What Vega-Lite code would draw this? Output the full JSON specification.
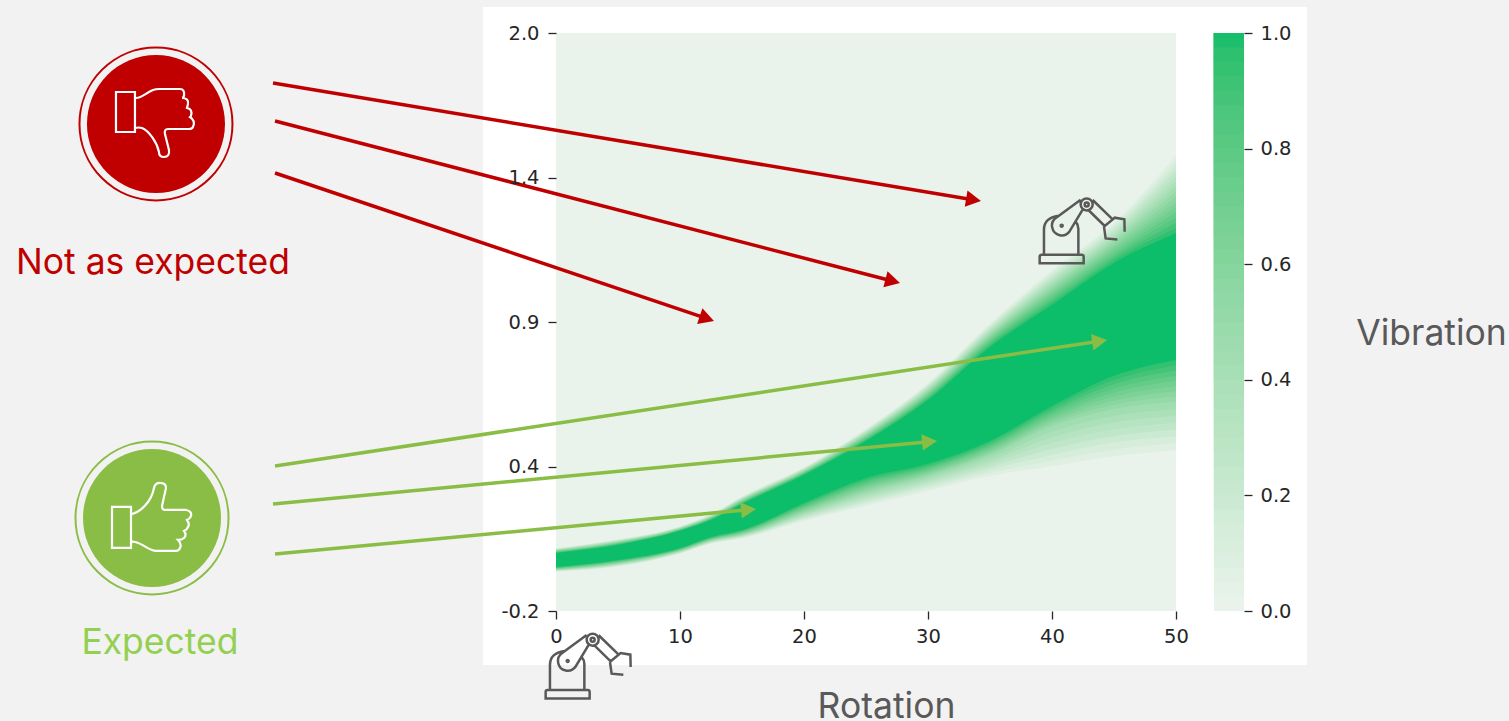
{"$schema":"https://vega.github.io/schema/vega-lite/v6.json","autosize":"none","width":620,"height":578,"padding":{"left":556,"top":33,"right":333,"bottom":110},"background":"#f2f2f2","config":{"view":{"stroke":null}},
"datasets":{
"panel":[{"rot":-5.887,"rot2":60.56,"vib":2.099,"vib2":-0.4054}],
"bg":[{"rot":0,"rot2":50,"vib":2.0,"vib2":-0.2,"level":0}],
"bands":[
{"rot":0,"level":0.0625,"top":0.039,"bot":-0.050},{"rot":5,"level":0.0625,"top":0.073,"bot":-0.031},{"rot":10,"level":0.0625,"top":0.122,"bot":0.019},{"rot":15,"level":0.0625,"top":0.236,"bot":0.076},{"rot":20,"level":0.0625,"top":0.346,"bot":0.143},{"rot":25,"level":0.0625,"top":0.494,"bot":0.200},{"rot":30,"level":0.0625,"top":0.667,"bot":0.257},{"rot":35,"level":0.0625,"top":0.894,"bot":0.314},{"rot":40,"level":0.0625,"top":1.097,"bot":0.351},{"rot":45,"level":0.0625,"top":1.278,"bot":0.389},{"rot":50,"level":0.0625,"top":1.535,"bot":0.412},
{"rot":0,"level":0.125,"top":0.037,"bot":-0.049},{"rot":5,"level":0.125,"top":0.071,"bot":-0.029},{"rot":10,"level":0.125,"top":0.121,"bot":0.020},{"rot":15,"level":0.125,"top":0.234,"bot":0.079},{"rot":20,"level":0.125,"top":0.344,"bot":0.148},{"rot":25,"level":0.125,"top":0.490,"bot":0.207},{"rot":30,"level":0.125,"top":0.663,"bot":0.266},{"rot":35,"level":0.125,"top":0.888,"bot":0.325},{"rot":40,"level":0.125,"top":1.088,"bot":0.373},{"rot":45,"level":0.125,"top":1.268,"bot":0.415},{"rot":50,"level":0.125,"top":1.515,"bot":0.439},
{"rot":0,"level":0.1875,"top":0.036,"bot":-0.048},{"rot":5,"level":0.1875,"top":0.070,"bot":-0.027},{"rot":10,"level":0.1875,"top":0.120,"bot":0.021},{"rot":15,"level":0.1875,"top":0.232,"bot":0.081},{"rot":20,"level":0.1875,"top":0.343,"bot":0.152},{"rot":25,"level":0.1875,"top":0.487,"bot":0.215},{"rot":30,"level":0.1875,"top":0.659,"bot":0.274},{"rot":35,"level":0.1875,"top":0.882,"bot":0.337},{"rot":40,"level":0.1875,"top":1.079,"bot":0.395},{"rot":45,"level":0.1875,"top":1.258,"bot":0.441},{"rot":50,"level":0.1875,"top":1.496,"bot":0.465},
{"rot":0,"level":0.25,"top":0.035,"bot":-0.047},{"rot":5,"level":0.25,"top":0.068,"bot":-0.026},{"rot":10,"level":0.25,"top":0.119,"bot":0.023},{"rot":15,"level":0.25,"top":0.230,"bot":0.083},{"rot":20,"level":0.25,"top":0.341,"bot":0.157},{"rot":25,"level":0.25,"top":0.484,"bot":0.222},{"rot":30,"level":0.25,"top":0.655,"bot":0.282},{"rot":35,"level":0.25,"top":0.876,"bot":0.348},{"rot":40,"level":0.25,"top":1.070,"bot":0.417},{"rot":45,"level":0.25,"top":1.247,"bot":0.466},{"rot":50,"level":0.25,"top":1.476,"bot":0.491},
{"rot":0,"level":0.3125,"top":0.034,"bot":-0.045},{"rot":5,"level":0.3125,"top":0.067,"bot":-0.024},{"rot":10,"level":0.3125,"top":0.118,"bot":0.024},{"rot":15,"level":0.3125,"top":0.228,"bot":0.085},{"rot":20,"level":0.3125,"top":0.339,"bot":0.161},{"rot":25,"level":0.3125,"top":0.481,"bot":0.230},{"rot":30,"level":0.3125,"top":0.650,"bot":0.290},{"rot":35,"level":0.3125,"top":0.870,"bot":0.360},{"rot":40,"level":0.3125,"top":1.061,"bot":0.439},{"rot":45,"level":0.3125,"top":1.237,"bot":0.492},{"rot":50,"level":0.3125,"top":1.456,"bot":0.517},
{"rot":0,"level":0.375,"top":0.033,"bot":-0.044},{"rot":5,"level":0.375,"top":0.066,"bot":-0.022},{"rot":10,"level":0.375,"top":0.116,"bot":0.026},{"rot":15,"level":0.375,"top":0.226,"bot":0.087},{"rot":20,"level":0.375,"top":0.337,"bot":0.166},{"rot":25,"level":0.375,"top":0.478,"bot":0.238},{"rot":30,"level":0.375,"top":0.646,"bot":0.298},{"rot":35,"level":0.375,"top":0.864,"bot":0.371},{"rot":40,"level":0.375,"top":1.053,"bot":0.461},{"rot":45,"level":0.375,"top":1.227,"bot":0.518},{"rot":50,"level":0.375,"top":1.436,"bot":0.543},
{"rot":0,"level":0.4375,"top":0.032,"bot":-0.043},{"rot":5,"level":0.4375,"top":0.064,"bot":-0.021},{"rot":10,"level":0.4375,"top":0.115,"bot":0.027},{"rot":15,"level":0.4375,"top":0.225,"bot":0.089},{"rot":20,"level":0.4375,"top":0.335,"bot":0.170},{"rot":25,"level":0.4375,"top":0.475,"bot":0.245},{"rot":30,"level":0.4375,"top":0.642,"bot":0.306},{"rot":35,"level":0.4375,"top":0.858,"bot":0.383},{"rot":40,"level":0.4375,"top":1.044,"bot":0.482},{"rot":45,"level":0.4375,"top":1.217,"bot":0.543},{"rot":50,"level":0.4375,"top":1.417,"bot":0.569},
{"rot":0,"level":0.5,"top":0.030,"bot":-0.042},{"rot":5,"level":0.5,"top":0.063,"bot":-0.019},{"rot":10,"level":0.5,"top":0.114,"bot":0.028},{"rot":15,"level":0.5,"top":0.223,"bot":0.091},{"rot":20,"level":0.5,"top":0.333,"bot":0.175},{"rot":25,"level":0.5,"top":0.472,"bot":0.253},{"rot":30,"level":0.5,"top":0.637,"bot":0.314},{"rot":35,"level":0.5,"top":0.852,"bot":0.394},{"rot":40,"level":0.5,"top":1.035,"bot":0.504},{"rot":45,"level":0.5,"top":1.206,"bot":0.569},{"rot":50,"level":0.5,"top":1.397,"bot":0.596},
{"rot":0,"level":0.5625,"top":0.029,"bot":-0.041},{"rot":5,"level":0.5625,"top":0.061,"bot":-0.017},{"rot":10,"level":0.5625,"top":0.113,"bot":0.030},{"rot":15,"level":0.5625,"top":0.221,"bot":0.093},{"rot":20,"level":0.5625,"top":0.331,"bot":0.180},{"rot":25,"level":0.5625,"top":0.469,"bot":0.260},{"rot":30,"level":0.5625,"top":0.633,"bot":0.320},{"rot":35,"level":0.5625,"top":0.847,"bot":0.401},{"rot":40,"level":0.5625,"top":1.026,"bot":0.514},{"rot":45,"level":0.5625,"top":1.196,"bot":0.585},{"rot":50,"level":0.5625,"top":1.377,"bot":0.616},
{"rot":0,"level":0.625,"top":0.028,"bot":-0.040},{"rot":5,"level":0.625,"top":0.060,"bot":-0.016},{"rot":10,"level":0.625,"top":0.112,"bot":0.031},{"rot":15,"level":0.625,"top":0.219,"bot":0.096},{"rot":20,"level":0.625,"top":0.329,"bot":0.184},{"rot":25,"level":0.625,"top":0.466,"bot":0.266},{"rot":30,"level":0.625,"top":0.629,"bot":0.325},{"rot":35,"level":0.625,"top":0.841,"bot":0.407},{"rot":40,"level":0.625,"top":1.017,"bot":0.523},{"rot":45,"level":0.625,"top":1.186,"bot":0.600},{"rot":50,"level":0.625,"top":1.357,"bot":0.636},
{"rot":0,"level":0.6875,"top":0.027,"bot":-0.038},{"rot":5,"level":0.6875,"top":0.059,"bot":-0.014},{"rot":10,"level":0.6875,"top":0.110,"bot":0.033},{"rot":15,"level":0.6875,"top":0.217,"bot":0.098},{"rot":20,"level":0.6875,"top":0.327,"bot":0.189},{"rot":25,"level":0.6875,"top":0.463,"bot":0.273},{"rot":30,"level":0.6875,"top":0.624,"bot":0.331},{"rot":35,"level":0.6875,"top":0.835,"bot":0.414},{"rot":40,"level":0.6875,"top":1.009,"bot":0.533},{"rot":45,"level":0.6875,"top":1.176,"bot":0.616},{"rot":50,"level":0.6875,"top":1.338,"bot":0.656},
{"rot":0,"level":0.75,"top":0.026,"bot":-0.037},{"rot":5,"level":0.75,"top":0.057,"bot":-0.012},{"rot":10,"level":0.75,"top":0.109,"bot":0.034},{"rot":15,"level":0.75,"top":0.215,"bot":0.100},{"rot":20,"level":0.75,"top":0.325,"bot":0.193},{"rot":25,"level":0.75,"top":0.459,"bot":0.280},{"rot":30,"level":0.75,"top":0.620,"bot":0.337},{"rot":35,"level":0.75,"top":0.829,"bot":0.421},{"rot":40,"level":0.75,"top":1.000,"bot":0.542},{"rot":45,"level":0.75,"top":1.165,"bot":0.632},{"rot":50,"level":0.75,"top":1.318,"bot":0.676},
{"rot":0,"level":0.8125,"top":0.024,"bot":-0.036},{"rot":5,"level":0.8125,"top":0.056,"bot":-0.011},{"rot":10,"level":0.8125,"top":0.108,"bot":0.036},{"rot":15,"level":0.8125,"top":0.213,"bot":0.102},{"rot":20,"level":0.8125,"top":0.324,"bot":0.198},{"rot":25,"level":0.8125,"top":0.456,"bot":0.286},{"rot":30,"level":0.8125,"top":0.616,"bot":0.342},{"rot":35,"level":0.8125,"top":0.823,"bot":0.427},{"rot":40,"level":0.8125,"top":0.991,"bot":0.552},{"rot":45,"level":0.8125,"top":1.155,"bot":0.647},{"rot":50,"level":0.8125,"top":1.298,"bot":0.695},
{"rot":0,"level":0.875,"top":0.023,"bot":-0.035},{"rot":5,"level":0.875,"top":0.054,"bot":-0.009},{"rot":10,"level":0.875,"top":0.107,"bot":0.037},{"rot":15,"level":0.875,"top":0.211,"bot":0.104},{"rot":20,"level":0.875,"top":0.322,"bot":0.202},{"rot":25,"level":0.875,"top":0.453,"bot":0.293},{"rot":30,"level":0.875,"top":0.612,"bot":0.348},{"rot":35,"level":0.875,"top":0.817,"bot":0.434},{"rot":40,"level":0.875,"top":0.982,"bot":0.561},{"rot":45,"level":0.875,"top":1.145,"bot":0.663},{"rot":50,"level":0.875,"top":1.278,"bot":0.715},
{"rot":0,"level":0.9375,"top":0.022,"bot":-0.033},{"rot":5,"level":0.9375,"top":0.053,"bot":-0.007},{"rot":10,"level":0.9375,"top":0.106,"bot":0.039},{"rot":15,"level":0.9375,"top":0.209,"bot":0.106},{"rot":20,"level":0.9375,"top":0.320,"bot":0.207},{"rot":25,"level":0.9375,"top":0.450,"bot":0.300},{"rot":30,"level":0.9375,"top":0.607,"bot":0.354},{"rot":35,"level":0.9375,"top":0.811,"bot":0.441},{"rot":40,"level":0.9375,"top":0.973,"bot":0.571},{"rot":45,"level":0.9375,"top":1.135,"bot":0.679},{"rot":50,"level":0.9375,"top":1.259,"bot":0.735},
{"rot":0,"level":1,"top":0.021,"bot":-0.032},{"rot":5,"level":1,"top":0.051,"bot":-0.006},{"rot":10,"level":1,"top":0.105,"bot":0.040},{"rot":15,"level":1,"top":0.207,"bot":0.108},{"rot":20,"level":1,"top":0.318,"bot":0.211},{"rot":25,"level":1,"top":0.447,"bot":0.306},{"rot":30,"level":1,"top":0.603,"bot":0.360},{"rot":35,"level":1,"top":0.805,"bot":0.447},{"rot":40,"level":1,"top":0.965,"bot":0.580},{"rot":45,"level":1,"top":1.125,"bot":0.695},{"rot":50,"level":1,"top":1.239,"bot":0.755},
{"rot":12.5,"level":0.0625,"top":0.168,"bot":0.057},{"rot":12.5,"level":0.125,"top":0.167,"bot":0.058},{"rot":12.5,"level":0.1875,"top":0.165,"bot":0.060},{"rot":12.5,"level":0.25,"top":0.164,"bot":0.062},{"rot":12.5,"level":0.3125,"top":0.162,"bot":0.063},{"rot":12.5,"level":0.375,"top":0.161,"bot":0.065},{"rot":12.5,"level":0.4375,"top":0.159,"bot":0.067},{"rot":12.5,"level":0.5,"top":0.158,"bot":0.068},{"rot":12.5,"level":0.5625,"top":0.157,"bot":0.070},{"rot":12.5,"level":0.625,"top":0.155,"bot":0.072},{"rot":12.5,"level":0.6875,"top":0.154,"bot":0.073},{"rot":12.5,"level":0.75,"top":0.152,"bot":0.075},{"rot":12.5,"level":0.8125,"top":0.151,"bot":0.077},{"rot":12.5,"level":0.875,"top":0.149,"bot":0.078},{"rot":12.5,"level":0.9375,"top":0.148,"bot":0.080},{"rot":12.5,"level":1,"top":0.146,"bot":0.082}
],
"arrows":[
{"outcome":"Not as expected","x0":-22.82,"y0":1.8097,"x1":33.63,"y1":1.3655,"tipx":34.27,"tipy":1.3606,"heading":9.46},
{"outcome":"Not as expected","x0":-22.66,"y0":1.6651,"x1":27.12,"y1":1.0561,"tipx":27.74,"tipy":1.0485,"heading":14.53},
{"outcome":"Not as expected","x0":-22.66,"y0":1.4672,"x1":12.13,"y1":0.9138,"tipx":12.74,"tipy":0.9039,"heading":18.63},
{"outcome":"Expected","x0":-22.66,"y0":0.3520,"x1":43.79,"y1":0.8270,"tipx":44.44,"tipy":0.8315,"heading":-8.61},
{"outcome":"Expected","x0":-22.82,"y0":0.2074,"x1":30.08,"y1":0.4441,"tipx":30.73,"tipy":0.4471,"heading":-5.42},
{"outcome":"Expected","x0":-22.66,"y0":0.0171,"x1":15.48,"y1":0.1857,"tipx":16.13,"tipy":0.1883,"heading":-5.34}
],
"badges":[
{"outcome":"Not as expected","cx":-32.26,"cy":1.6537,"lx":-32.5,"ly":1.0828},
{"outcome":"Expected","cx":-32.58,"cy":0.1541,"lx":-31.94,"ly":-0.3635}
],
"robots":[{"rot":40.78,"vib":1.2666},{"rot":0.94,"vib":-0.3902}],
"colorbar":[
{"v":0,"v2":1},{"v":0.025,"v2":1},{"v":0.05,"v2":1},{"v":0.075,"v2":1},{"v":0.1,"v2":1},{"v":0.125,"v2":1},{"v":0.15,"v2":1},{"v":0.175,"v2":1},{"v":0.2,"v2":1},{"v":0.225,"v2":1},{"v":0.25,"v2":1},{"v":0.275,"v2":1},{"v":0.3,"v2":1},{"v":0.325,"v2":1},{"v":0.35,"v2":1},{"v":0.375,"v2":1},{"v":0.4,"v2":1},{"v":0.425,"v2":1},{"v":0.45,"v2":1},{"v":0.475,"v2":1},{"v":0.5,"v2":1},{"v":0.525,"v2":1},{"v":0.55,"v2":1},{"v":0.575,"v2":1},{"v":0.6,"v2":1},{"v":0.625,"v2":1},{"v":0.65,"v2":1},{"v":0.675,"v2":1},{"v":0.7,"v2":1},{"v":0.725,"v2":1},{"v":0.75,"v2":1},{"v":0.775,"v2":1},{"v":0.8,"v2":1},{"v":0.825,"v2":1},{"v":0.85,"v2":1},{"v":0.875,"v2":1},{"v":0.9,"v2":1},{"v":0.925,"v2":1},{"v":0.95,"v2":1},{"v":0.975,"v2":1},{"v":0.99,"v2":1}
]
},
"layer":[
{"layer":[
{"data":{"name":"panel"},"mark":{"type":"rect","fill":"white"},
 "encoding":{
  "x":{"field":"rot","type":"quantitative","scale":{"domain":[0,50],"nice":false,"zero":false},
   "axis":{"zindex":1,"title":"Rotation","values":[0,10,20,30,40,50],"grid":false,"domain":false,"tickSize":8,"tickWidth":1.3,"tickColor":"#262626","labelFont":"DejaVu Sans","labelFontSize":19.5,"labelColor":"#262626","labelPadding":8,"labelFlush":false,"titleFont":"Inter","titleFontSize":35.5,"titleFontWeight":"normal","titleColor":"#595959","titleX":330,"titleY":106,"titleBaseline":"alphabetic","titleAlign":"center"}},
  "x2":{"field":"rot2"},
  "y":{"field":"vib","type":"quantitative","scale":{"domain":[-0.2,2.0],"nice":false,"zero":false},
   "axis":{"zindex":1,"title":null,"values":[2.0,1.45,0.9,0.35,-0.2],"labelExpr":"datum.value==1.45?'1.4':datum.value==0.35?'0.4':datum.value==-0.2?'-0.2':format(datum.value,'.1f')","grid":false,"domain":false,"tickSize":8,"tickWidth":1.3,"tickColor":"#262626","labelFont":"DejaVu Sans","labelFontSize":19.5,"labelColor":"#262626","labelPadding":9,"labelFlush":false}},
  "y2":{"field":"vib2"}}},
{"data":{"name":"bg"},"mark":{"type":"rect"},
 "encoding":{"x":{"field":"rot","type":"quantitative"},"x2":{"field":"rot2"},"y":{"field":"vib","type":"quantitative"},"y2":{"field":"vib2"},
  "color":{"field":"level","type":"quantitative","legend":null,"scale":{"domain":[0,1],"range":["#e9f3eb","#0cbd69"]}}}},
{"data":{"name":"bands"},"mark":{"type":"area","interpolate":"monotone","opacity":1},
 "encoding":{"x":{"field":"rot","type":"quantitative"},"y":{"field":"top","type":"quantitative"},"y2":{"field":"bot"},"detail":{"field":"level"},
  "color":{"field":"level","type":"quantitative","legend":null}}},
{"data":{"name":"arrows"},"transform":[{"filter":"datum.outcome==='Not as expected'"}],"mark":{"type":"rule","stroke":"#c00000","strokeWidth":3.5},
 "encoding":{"x":{"field":"x0","type":"quantitative"},"x2":{"field":"x1"},"y":{"field":"y0","type":"quantitative"},"y2":{"field":"y1"}}},
{"data":{"name":"arrows"},"transform":[{"filter":"datum.outcome==='Expected'"}],"mark":{"type":"rule","stroke":"#8abd45","strokeWidth":3.5},
 "encoding":{"x":{"field":"x0","type":"quantitative"},"x2":{"field":"x1"},"y":{"field":"y0","type":"quantitative"},"y2":{"field":"y1"}}},
{"data":{"name":"arrows"},"transform":[{"filter":"datum.outcome==='Not as expected'"}],"mark":{"type":"point","shape":"M0 0 L-1 -0.55 L-1 0.55 Z","size":900,"filled":true,"fill":"#c00000","opacity":1,"strokeWidth":0},
 "encoding":{"x":{"field":"tipx","type":"quantitative"},"y":{"field":"tipy","type":"quantitative"},"angle":{"field":"heading","type":"quantitative","scale":null}}},
{"data":{"name":"arrows"},"transform":[{"filter":"datum.outcome==='Expected'"}],"mark":{"type":"point","shape":"M0 0 L-1 -0.55 L-1 0.55 Z","size":900,"filled":true,"fill":"#8abd45","opacity":1,"strokeWidth":0},
 "encoding":{"x":{"field":"tipx","type":"quantitative"},"y":{"field":"tipy","type":"quantitative"},"angle":{"field":"heading","type":"quantitative","scale":null}}},
{"data":{"name":"badges"},"transform":[{"filter":"datum.outcome==='Not as expected'"}],"mark":{"type":"point","shape":"circle","size":19044,"filled":true,"fill":"#c00000","opacity":1,"strokeWidth":0},
 "encoding":{"x":{"field":"cx","type":"quantitative"},"y":{"field":"cy","type":"quantitative"}}},
{"data":{"name":"badges"},"transform":[{"filter":"datum.outcome==='Not as expected'"}],"mark":{"type":"point","shape":"circle","size":23409,"filled":false,"stroke":"#c00000","strokeWidth":2,"opacity":1},
 "encoding":{"x":{"field":"cx","type":"quantitative"},"y":{"field":"cy","type":"quantitative"}}},
{"data":{"name":"badges"},"transform":[{"filter":"datum.outcome==='Expected'"}],"mark":{"type":"point","shape":"circle","size":19044,"filled":true,"fill":"#8abd45","opacity":1,"strokeWidth":0},
 "encoding":{"x":{"field":"cx","type":"quantitative"},"y":{"field":"cy","type":"quantitative"}}},
{"data":{"name":"badges"},"transform":[{"filter":"datum.outcome==='Expected'"}],"mark":{"type":"point","shape":"circle","size":23409,"filled":false,"stroke":"#8abd45","strokeWidth":2,"opacity":1},
 "encoding":{"x":{"field":"cx","type":"quantitative"},"y":{"field":"cy","type":"quantitative"}}},
{"data":{"name":"badges"},"transform":[{"filter":"datum.outcome==='Not as expected'"}],"mark":{"type":"point","shape":"M-40 -32 L-21 -32 L-21 8 L-40 8 Z M-20 -26 C-14 -26 -10 -31 -3 -34 Q0 -35 3 -35 L24 -35 Q29 -35 28 -28 Q27 -26 26 -26 Q33 -26 32 -20 Q31 -16 31 -16 Q37 -15 35 -8 Q34 -7 34 -7 Q40 -3 37 3 Q36 5 33 5 L12 5 Q8 5 9 10 L13 26 Q14 33 8 33 Q3 33 3 28 C1 18 -7 7 -14 4 Q-17 3 -21 4","size":4,"filled":false,"stroke":"white","strokeWidth":2.2,"opacity":1},
 "encoding":{"x":{"field":"cx","type":"quantitative"},"y":{"field":"cy","type":"quantitative"}}},
{"data":{"name":"badges"},"transform":[{"filter":"datum.outcome==='Expected'"}],"mark":{"type":"point","shape":"M-40 -11 L-21 -11 L-21 30 L-40 30 Z M-20 -4 C-12 -6 -1 -15 2 -30 Q3 -35 8 -35 Q14 -35 14 -30 L10 -12 Q10 -8 13 -8 L34 -8 Q40 -7 39 -2 Q38 1 35 2 Q38 6 36 9 Q35 12 32 13 Q35 17 32 20 Q30 22 26 22 Q30 26 28 30 Q27 33 24 33 L4 33 C-3 33 -10 25 -17 24 Q-19 23.5 -21 24","size":4,"filled":false,"stroke":"white","strokeWidth":2.2,"opacity":1},
 "encoding":{"x":{"field":"cx","type":"quantitative"},"y":{"field":"cy","type":"quantitative"}}},
{"data":{"name":"badges"},"transform":[{"filter":"datum.outcome==='Not as expected'"}],"mark":{"type":"text","font":"Inter","fontSize":35.5,"align":"center","baseline":"alphabetic","fill":"#c00000"},
 "encoding":{"x":{"field":"lx","type":"quantitative"},"y":{"field":"ly","type":"quantitative"},"text":{"field":"outcome"}}},
{"data":{"name":"badges"},"transform":[{"filter":"datum.outcome==='Expected'"}],"mark":{"type":"text","font":"Inter","fontSize":35.5,"align":"center","baseline":"alphabetic","fill":"#92d050"},
 "encoding":{"x":{"field":"lx","type":"quantitative"},"y":{"field":"ly","type":"quantitative"},"text":{"field":"outcome"}}},
{"data":{"name":"robots"},"mark":{"type":"point","shape":"M-22 37.5 L22 37.5 L22 31 Q22 29 20 29 L-20 29 Q-22 29 -22 31 Z M-17.7 29 L-17.7 4 Q-17.7 -8 -3 -10 M16.7 29 L16.7 3 Q16.7 -1 14 -4 M-5.5 -8 L19 -26 M-5.5 -8 A9.7 9.7 0 1 0 8 5.5 L21 -16 M19 -21.3 A6 6 0 1 0 31 -21.3 A6 6 0 1 0 19 -21.3 M23 -21.3 A2 2 0 1 0 27 -21.3 A2 2 0 1 0 23 -21.3 M-1 0 A1 1 0 1 0 1 0 A1 1 0 1 0 -1 0 M31 -25.7 L51 -6.3 L43 0.3 L26.7 -15.7 M51 -6.3 L53 -8 L62.7 -6.3 L63 6 M42.3 1 L44 12.7 L55.7 13.7","size":4,"filled":false,"stroke":"#595959","strokeWidth":2.5,"opacity":1},
 "encoding":{"x":{"field":"rot","type":"quantitative"},"y":{"field":"vib","type":"quantitative"}}}
]},
{"data":{"name":"colorbar"},"mark":{"type":"rect"},
 "encoding":{
  "x":{"datum":53.06,"type":"quantitative"},"x2":{"datum":55.48},
  "y":{"field":"v","type":"quantitative","scale":{"domain":[0,1],"nice":false,"zero":false},
   "axis":{"zindex":1,"orient":"right","offset":68,"title":"Vibration","values":[0,0.2,0.4,0.6,0.8,1.0],"format":".1f","grid":false,"domain":false,"tickSize":8,"tickWidth":1.3,"tickColor":"#262626","labelFont":"DejaVu Sans","labelFontSize":19.5,"labelColor":"#262626","labelPadding":8,"labelFlush":false,"titleFont":"Inter","titleFontSize":35.5,"titleFontWeight":"normal","titleColor":"#595959","titleAngle":0,"titleX":187,"titleY":311,"titleBaseline":"alphabetic","titleAlign":"center"}},
  "y2":{"field":"v2"},
  "color":{"field":"v","type":"quantitative","legend":null}}}
],
"resolve":{"scale":{"y":"independent"}}
}
